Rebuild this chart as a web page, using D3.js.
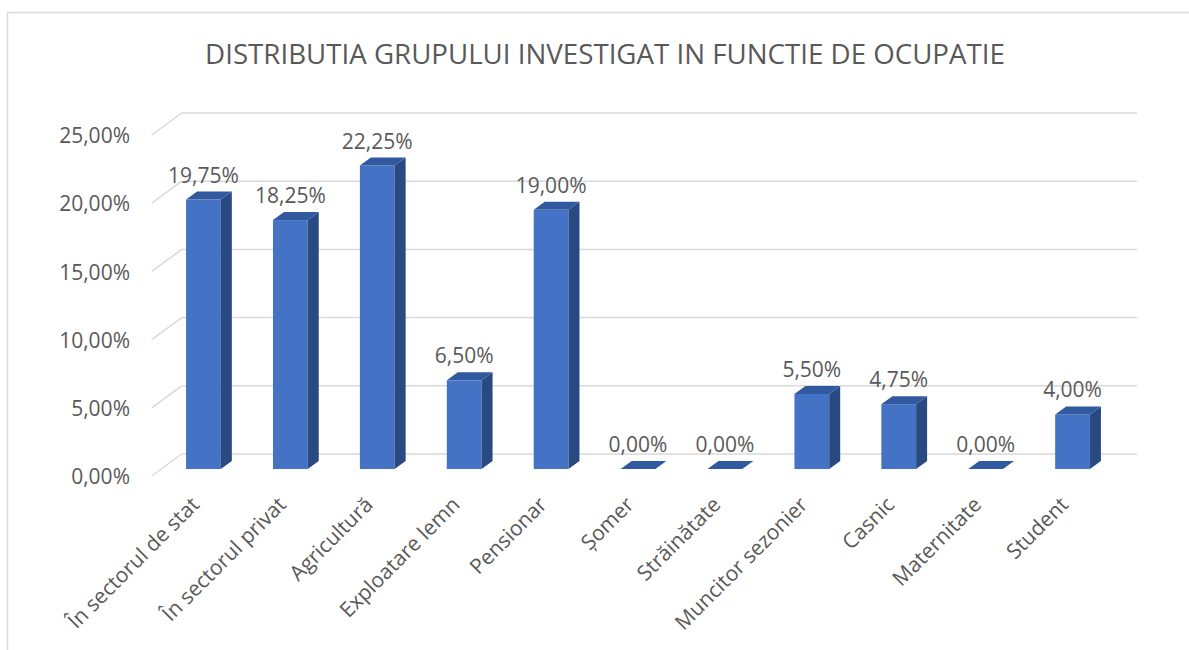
<!DOCTYPE html>
<html>
<head>
<meta charset="utf-8">
<script src="https://cdn.jsdelivr.net/npm/d3@7"></script>
<style>
  body { margin: 0; background: #fff; }
  text { font-family: "Open Sans", sans-serif; fill: #595959; }
</style>
</head>
<body>
<svg width="1189" height="650"></svg>
<script>
// date
const categories = ["În sectorul de stat", "În sectorul privat", "Agricultură", "Exploatare lemn",
    "Pensionar", "Șomer", "Străinătate", "Muncitor sezonier", "Casnic", "Maternitate", "Student"];
const values = [19.75, 18.25, 22.25, 6.5, 19.0, 0, 0, 5.5, 4.75, 0, 4.0];
const yTicks = [0, 5, 10, 15, 20, 25];
const title = "DISTRIBUTIA GRUPULUI INVESTIGAT IN FUNCTIE DE OCUPATIE";

const svg = d3.select("svg"),
    width = +svg.attr("width"),
    height = +svg.attr("height");

const ro = d3.formatLocale({decimal: ",", thousands: ".", grouping: [3], currency: ["", " lei"]});
const fmt = function (v) { return ro.format(".2f")(v) + "%"; };

// chenarul graficului
svg.append("rect")
    .attr("x", 7.5).attr("y", 12.5)
    .attr("width", 1300).attr("height", 800)
    .attr("fill", "#fff")
    .attr("stroke", "#d9d9d9")
    .attr("stroke-width", 1.5);

svg.append("text")
    .attr("x", 605).attr("y", 64)
    .attr("text-anchor", "middle")
    .style("font-size", "27.7px")
    .text(title);

// perete spate + perete lateral (3D)
const wallL = 181.7, wallR = 1137, depthX = 30, depthY = 22;
const yBack = d3.scaleLinear().domain([0, 25]).range([454, 113]);
const yFront = d3.scaleLinear().domain([0, 25]).range([454 + depthY + 1, 113 + depthY + 1]);
const yBar = d3.scaleLinear().domain([0, 25]).range([469, 128]);

const grid = svg.append("g").attr("class", "grid");
grid.selectAll("line.back")
    .data(yTicks)
    .enter().append("line")
    .attr("class", "back")
    .attr("x1", wallL).attr("x2", wallR)
    .attr("y1", function (d) { return yBack(d); })
    .attr("y2", function (d) { return yBack(d); })
    .attr("stroke", "#d9d9d9").attr("stroke-width", 1.5);
grid.selectAll("line.side")
    .data(yTicks)
    .enter().append("line")
    .attr("class", "side")
    .attr("x1", wallL - depthX).attr("x2", wallL)
    .attr("y1", function (d) { return yBack(d) + depthY; })
    .attr("y2", function (d) { return yBack(d); })
    .attr("stroke", "#d9d9d9").attr("stroke-width", 1.5);

// axa Y
const yAxis = svg.append("g")
    .attr("transform", "translate(130,0)")
    .call(d3.axisLeft(yFront).tickValues(yTicks).tickSize(0).tickPadding(0).tickFormat(fmt));
yAxis.select(".domain").remove();
yAxis.selectAll("text")
    .style("font-size", "21px")
    .style("font-family", "Open Sans, sans-serif")
    .attr("fill", "#595959");

// axa X
const x = d3.scaleBand()
    .domain(categories)
    .range([160, 1116])
    .paddingInner(0.6)
    .paddingOuter(0.3);
const bw = x.bandwidth(), bdx = 11, bdy = -8;

const bars = svg.append("g")
    .attr("class", "bars")
    .selectAll("g")
    .data(categories.map(function (c, i) { return {cat: c, val: values[i]}; }))
    .enter().append("g");

// fata
bars.filter(function (d) { return d.val > 0; })
    .append("rect")
    .attr("x", function (d) { return x(d.cat); })
    .attr("y", function (d) { return yBar(d.val); })
    .attr("width", bw)
    .attr("height", function (d) { return yBar(0) - yBar(d.val); })
    .attr("fill", "#4472c4");

// lateral
bars.filter(function (d) { return d.val > 0; })
    .append("path")
    .attr("d", function (d) {
        const x1 = x(d.cat) + bw, t = yBar(d.val), b = yBar(0);
        return "M" + x1 + "," + t + "L" + (x1 + bdx) + "," + (t + bdy) +
            "L" + (x1 + bdx) + "," + (b + bdy) + "L" + x1 + "," + b + "Z";
    })
    .attr("fill", "#294a80");

// capac
bars.append("path")
    .attr("d", function (d) {
        const x0 = x(d.cat), t = yBar(d.val);
        return "M" + x0 + "," + t + "L" + (x0 + bdx) + "," + (t + bdy) +
            "L" + (x0 + bw + bdx) + "," + (t + bdy) + "L" + (x0 + bw) + "," + t + "Z";
    })
    .attr("fill", "#30599f");

// etichete valori
bars.append("text")
    .attr("x", function (d) { return x(d.cat) + bw / 2; })
    .attr("y", function (d) { return yBar(d.val) + bdy - 9; })
    .attr("text-anchor", "middle")
    .style("font-size", "21px")
    .text(function (d) { return fmt(d.val); });

// etichete categorii
const xAxis = svg.append("g")
    .attr("transform", "translate(0,506)")
    .call(d3.axisBottom(x).tickSize(0).tickPadding(0));
xAxis.select(".domain").remove();
xAxis.selectAll("text")
    .attr("y", 0).attr("dy", 0)
    .attr("text-anchor", "end")
    .attr("transform", "translate(-3,0) rotate(-45)")
    .style("font-size", "21px")
    .style("font-family", "Open Sans, sans-serif")
    .attr("fill", "#595959");
</script>
</body>
</html>
